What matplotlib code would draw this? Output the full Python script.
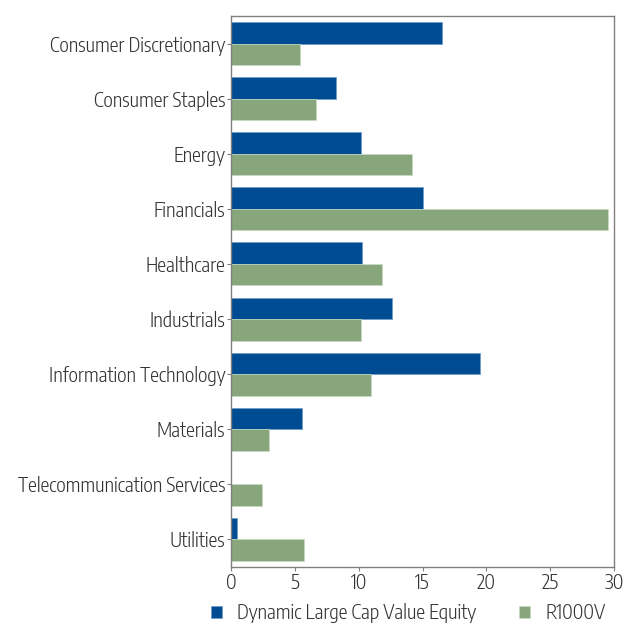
import numpy as np
import matplotlib
matplotlib.use("Agg")
import matplotlib.pyplot as plt

categories = [
    "Consumer Discretionary", "Consumer Staples", "Energy", "Financials",
    "Healthcare", "Industrials", "Information Technology", "Materials",
    "Telecommunication Services", "Utilities",
]
dlcve = [16.55, 8.2, 10.2, 15.05, 10.3, 12.65, 19.5, 5.6, 0.0, 0.45]
r1000v = [5.4, 6.65, 14.15, 29.55, 11.8, 10.15, 10.95, 2.95, 2.45, 5.7]
series_names = ["Dynamic Large Cap Value Equity", "R1000V"]
xticks = [0, 5, 10, 15, 20, 25, 30]

blue = "#004C93"
green = "#87A67C"

plt.rcParams["font.family"] = ["Encode Sans Condensed", "Roboto Condensed", "DejaVu Sans"]
plt.rcParams["font.weight"] = 300
fs = 14.3

fig = plt.figure(figsize=(6.24, 6.24), dpi=100)
ax = fig.add_axes([231 / 624, 1 - 567 / 624, 383 / 624, 551 / 624])

y = np.arange(len(categories))
h = 0.39
ax.barh(y - h / 2, dlcve, height=h, color=blue, edgecolor="#6f9ccc", linewidth=0.5,
        label=series_names[0])
ax.barh(y + h / 2, r1000v, height=h, color=green, edgecolor="#c9dcc3", linewidth=0.5,
        label=series_names[1])

ax.set_ylim(len(categories) - 0.5, -0.5)
ax.set_xlim(0, 30)
ax.set_yticks(y)
ax.set_yticklabels(categories)
ax.set_xticks(xticks)
for s in ax.spines.values():
    s.set_color("#808080")
    s.set_linewidth(1.0)
ax.tick_params(axis="both", colors="#808080", labelcolor="#333333", labelsize=fs,
               length=3, width=0.8, pad=1)

ax.legend(loc="center", bbox_to_anchor=(408 / 624, 1 - 613 / 624),
          bbox_transform=fig.transFigure, ncol=2, frameon=False, fontsize=fs,
          handlelength=0.55, handleheight=0.55, columnspacing=2.2, handletextpad=0.75,
          labelcolor="#333333", borderaxespad=0, borderpad=0)

fig.savefig("out.png", dpi=100)
